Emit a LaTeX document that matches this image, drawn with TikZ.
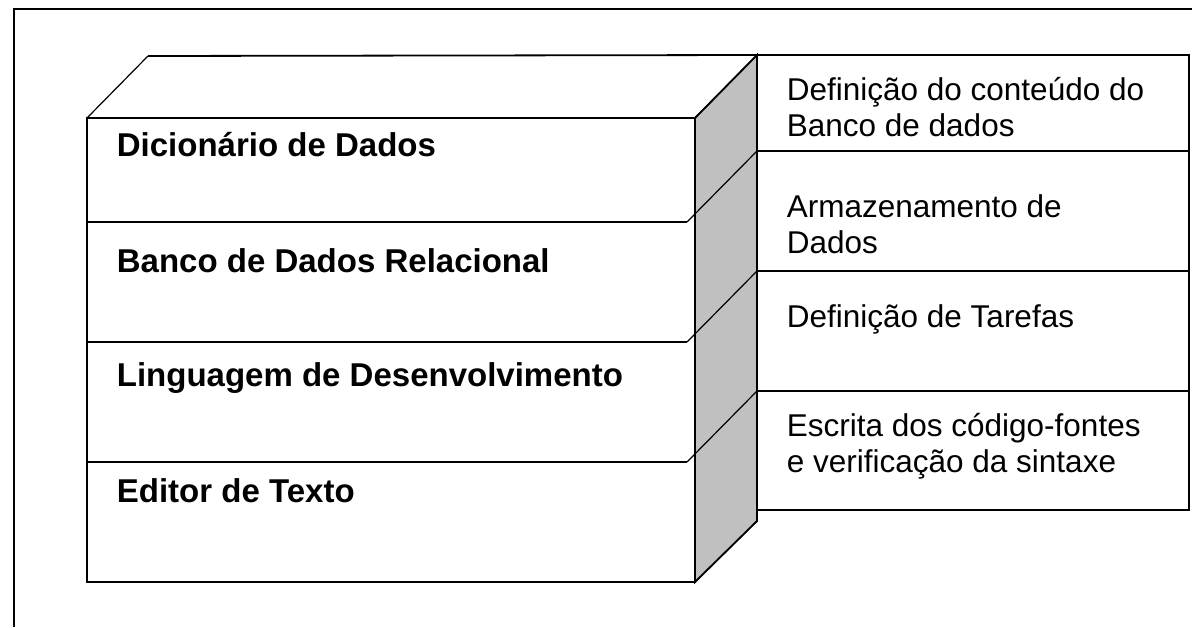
\documentclass[tikz,border=0pt]{standalone}
\usepackage{fontspec}
\setmainfont{Liberation Sans}
\definecolor{lateral}{RGB}{192,192,192}
\begin{document}
\begin{tikzpicture}[x=1pt, y=-1pt, line width=1.8pt, line join=miter,
	camada/.style={font=\fontsize{33}{38}\selectfont\bfseries, anchor=base west, inner sep=0pt},
	funcao/.style={font=\fontsize{31.5}{35.5}\selectfont, anchor=base west, inner sep=0pt, align=left},
	aresta/.style={line width=1.2pt}]
	\useasboundingbox (0,0) rectangle (1192,627);
	
	% Moldura
	\draw (14,627) -- (14,9) -- (1192,9);
	
	% Face lateral
	\filldraw[fill=lateral] (695,118) -- (757,55) -- (757,521) -- (695,582) -- cycle;
	\draw[aresta] (695,118) -- (757,55);
	\draw[aresta] (695,582) -- (757,521);
	
	% Face superior
	\draw[aresta] (87,118) -- (148,56);
	\draw (148,56) -- (757,55);
	
	% Face frontal e camadas
	\draw (87,118) rectangle (695,582);
	\foreach \y in {222,342,462} {
		\draw (87,\y) -- (687,\y);
		\draw[aresta] (687,\y) -- (757,\y-71);
	}
	
	% Tabela de funcoes
	\draw (757,55) rectangle (1189,510);
	\foreach \y in {151,271,391}
		\draw (757,\y) -- (1189,\y);
	
	% Nomes das camadas
	\node[camada] (dicionario) at (116,156) {Dicionário de Dados};
	\node[camada] (banco) at (116,272) {Banco de Dados Relacional};
	\node[camada] (linguagem) at (116,386) {Linguagem de Desenvolvimento};
	\node[camada] (editor) at (116,502) {Editor de Texto};
	
	% Funcoes (ancoradas na ultima linha)
	\node[funcao] (conteudo) at (786,136) {Definição do conteúdo do\\Banco de dados};
	\node[funcao] (armazenamento) at (786,253) {Armazenamento de\\Dados};
	\node[funcao] (tarefas) at (786,327) {Definição de Tarefas};
	\node[funcao] (escrita) at (786,472) {Escrita dos código-fontes\\e verificação da sintaxe};
\end{tikzpicture}
\end{document}
